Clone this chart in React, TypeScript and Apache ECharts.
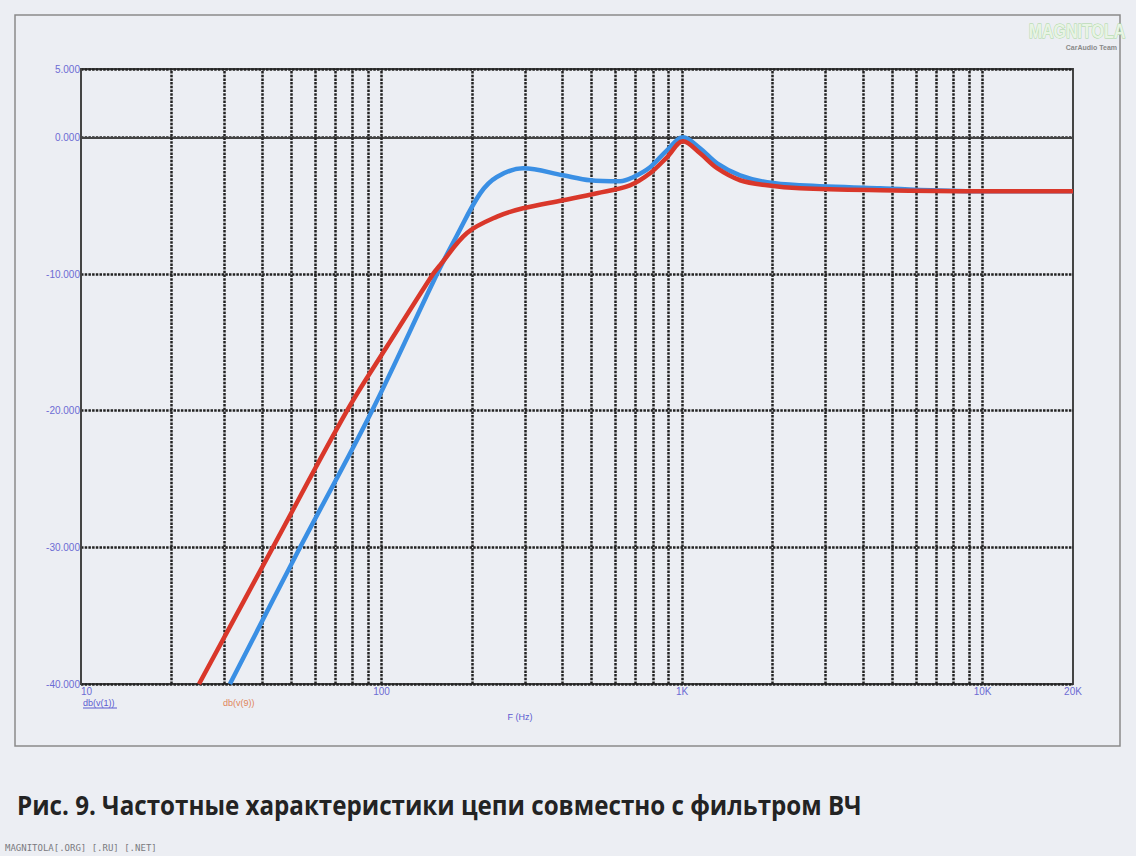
import React, { useEffect, useRef } from "react";
import * as echarts from "echarts";

// Frequency response data (Hz, dB)
const freqBlue = [31.3, 53.6, 93.0, 153, 178, 213, 242, 296, 402, 494, 622, 687, 783, 891, 1008, 1148, 1308, 1560, 1919, 2470, 4560, 9810, 20000];
const dbBlue = [-40, -30, -20, -10, -7.2, -4.1, -2.9, -2.26, -2.78, -3.14, -3.21, -2.92, -2.19, -0.95, 0, -0.8, -1.9, -2.78, -3.29, -3.51, -3.73, -3.94, -3.94];

const freqRed = [24.7, 43.5, 76.8, 105, 148.4, 156.6, 192.5, 242.4, 295.7, 401.8, 521, 671, 782.5, 891, 1008, 1148, 1308, 1560, 1919, 2470, 4560, 9810, 20000];
const dbRed = [-40, -30, -20, -15.2, -10, -9.35, -7.0, -5.8, -5.19, -4.6, -4.09, -3.51, -2.63, -1.46, -0.29, -1.17, -2.26, -3.14, -3.51, -3.73, -3.87, -3.94, -3.94];

// vertical grid lines (Hz)
const gridFreqs = [
  20, 30, 40, 50, 60, 70, 80, 90, 100,
  200, 300, 400, 500, 600, 700, 800, 900, 1000,
  2000, 3000, 4000, 5000, 6000, 7000, 8000, 9000, 10000,
];

const TITLE = "Рис. 9. Частотные характеристики цепи совместно с фильтром ВЧ";
const TITLE_FONT = "bold 27px 'Open Sans', 'Noto Sans', sans-serif";

function formatFreq(v: number): string {
  const r = Math.round(v);
  if (r >= 1000) return r / 1000 + "K";
  return String(r);
}

export default function App() {
  const ref = useRef<HTMLDivElement>(null);

  useEffect(() => {
    if (!ref.current) return;
    const chart = echarts.init(ref.current, null, { renderer: "svg" });

    // fit title width
    let titleScale = 1;
    try {
      const c = document.createElement("canvas");
      const ctx = c.getContext("2d");
      if (ctx) {
        ctx.font = TITLE_FONT;
        const w = ctx.measureText(TITLE).width;
        if (w > 0) titleScale = 845 / w;
      }
    } catch (e) {}

    const gridStyle = { color: "#222", width: 2.5, type: [2.5, 1.2] as number[] };
    const labelColor = "#6c6cd4";

    chart.setOption({
      animation: false,
      backgroundColor: "#eceef3",
      grid: {
        left: 81,
        top: 69,
        right: 63,
        bottom: 172,
        show: true,
        borderColor: "#444",
        borderWidth: 2,
        backgroundColor: "transparent",
      },
      xAxis: {
        type: "log",
        logBase: 10,
        min: 10,
        max: 20000,
        axisLine: { show: true, lineStyle: { color: "#444", width: 2 } },
        axisTick: { show: false },
        splitLine: { show: false },
        axisLabel: {
          formatter: (v: number) => formatFreq(v),
          color: labelColor,
          fontSize: 10,
          fontFamily: "Liberation Sans, Arial, sans-serif",
          margin: 2,
          alignMinLabel: "left",
        },
      },
      yAxis: {
        type: "value",
        min: -40,
        max: 5,
        interval: 10,
        axisLine: { show: true, lineStyle: { color: "#444", width: 2 } },
        axisTick: { show: false },
        splitLine: { show: true, lineStyle: gridStyle },
        axisLabel: {
          formatter: (v: number) => v.toFixed(3),
          color: labelColor,
          fontSize: 10,
          fontFamily: "Liberation Sans, Arial, sans-serif",
          margin: 1,
        },
      },
      series: [
        {
          name: "db(v(1))",
          type: "line",
          data: freqBlue.map((f, i) => [f, dbBlue[i]]),
          showSymbol: false,
          smooth: 0.35,
          lineStyle: { color: "#3a8fe4", width: 4.5 },
          markLine: {
            silent: true,
            symbol: "none",
            label: { show: false },
            lineStyle: gridStyle,
            data: gridFreqs.map((f) => ({ xAxis: f })),
            z: 1,
          },
          z: 3,
        },
        {
          name: "db(v(9))",
          type: "line",
          data: freqRed.map((f, i) => [f, dbRed[i]]),
          showSymbol: false,
          smooth: 0.35,
          lineStyle: { color: "#d9372a", width: 4.5 },
          z: 4,
        },
      ],
      graphic: [
        {
          type: "rect",
          shape: { x: 15, y: 15, width: 1105, height: 731 },
          style: { fill: "none", stroke: "#8a8a8a", lineWidth: 1.5 },
          silent: true,
          z: -1,
        },
        {
          type: "text",
          x: 83,
          y: 703,
          style: {
            text: "db(v(1))",
            fill: "#5a5ad0",
            font: "9px 'Liberation Sans', Arial, sans-serif",
            textVerticalAlign: "middle",
          },
        },
        {
          type: "line",
          shape: { x1: 83, y1: 708, x2: 117, y2: 708 },
          style: { stroke: "#5a5ad0", lineWidth: 1 },
        },
        {
          type: "text",
          x: 223,
          y: 703,
          style: {
            text: "db(v(9))",
            fill: "#e0845a",
            font: "9px 'Liberation Sans', Arial, sans-serif",
            textVerticalAlign: "middle",
          },
        },
        {
          type: "text",
          x: 520,
          y: 717,
          style: {
            text: "F (Hz)",
            fill: "#5a5ad0",
            font: "9px 'Liberation Sans', Arial, sans-serif",
            textAlign: "center",
            textVerticalAlign: "middle",
          },
        },
        {
          type: "text",
          x: 17,
          y: 818,
          scaleX: titleScale,
          style: {
            text: TITLE,
            fill: "#232323",
            font: TITLE_FONT,
            textVerticalAlign: "bottom",
          },
        },
        {
          type: "text",
          x: 5,
          y: 848,
          style: {
            text: "MAGNITOLA[.ORG] [.RU] [.NET]",
            fill: "#7a7a80",
            font: "9px 'DejaVu Sans Mono', monospace",
            textVerticalAlign: "middle",
          },
        },
        {
          type: "text",
          x: 1077,
          y: 31,
          style: {
            text: "MAGNITOLA",
            fill: "#e8f4e4",
            stroke: "#a9d6a0",
            lineWidth: 1,
            font: "bold 20px 'Liberation Sans Narrow', 'Liberation Sans', sans-serif",
            textAlign: "center",
            textVerticalAlign: "middle",
          },
          scaleX: 0.8,
        },
        {
          type: "text",
          x: 1117,
          y: 47,
          style: {
            text: "CarAudio Team",
            fill: "#8a8a8a",
            font: "bold 7px 'Liberation Sans', sans-serif",
            textAlign: "right",
            textVerticalAlign: "middle",
          },
        },
      ],
    });

    return () => chart.dispose();
  }, []);

  return (
    <div
      ref={ref}
      style={{ position: "fixed", left: 0, top: 0, width: 1136, height: 856 }}
    />
  );
}
